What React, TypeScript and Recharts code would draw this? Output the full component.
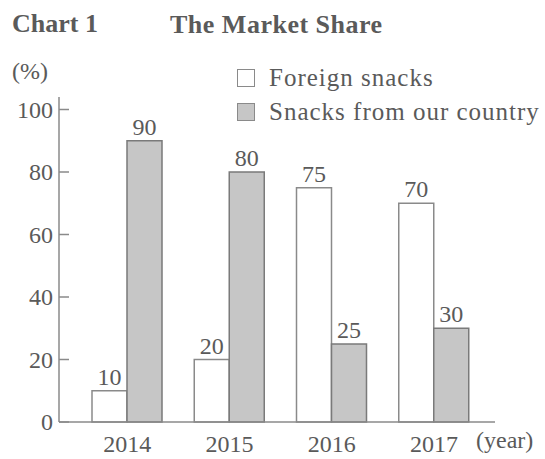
import { BarChart, Bar, XAxis, YAxis, LabelList } from "recharts";

const YEARS = ["2014", "2015", "2016", "2017"];
const FOREIGN = [10, 20, 75, 70];
const LOCAL = [90, 80, 25, 30];
const Y_TICKS = [0, 20, 40, 60, 80, 100];
const SERIES = [
  { name: "Foreign snacks", fill: "#ffffff" },
  { name: "Snacks from our country", fill: "#c6c6c6" },
];

const data = YEARS.map((year, i) => ({ year, foreign: FOREIGN[i], local: LOCAL[i] }));

const FONT = "'Liberation Serif', 'Times New Roman', serif";
const TEXT = "#5a5a5a";
const AXIS = "#8a8a8a";

function YTick(props: any) {
  const { x, y, payload } = props;
  return (
    <g>
      <line x1={x} x2={x + 10} y1={y} y2={y} stroke={AXIS} strokeWidth={1.5} />
      <text x={x - 6} y={y} dy="0.35em" textAnchor="end" fontSize={24} fontFamily={FONT} fill={TEXT}>
        {payload.value}
      </text>
    </g>
  );
}

// legend drawn by hand, the Legend component would push the plot area up
function LegendBox() {
  return (
    <div style={{ position: "absolute", left: 237, top: 61, fontFamily: FONT, color: TEXT }}>
      {SERIES.map((it) => (
        <div key={it.name} style={{ display: "flex", alignItems: "center", height: 34 }}>
          <span
            style={{
              display: "inline-block",
              width: 16,
              height: 16,
              background: it.fill,
              border: "1.5px solid #8a8a8a",
              marginRight: 14,
            }}
          />
          <span style={{ fontSize: 25, lineHeight: "34px", letterSpacing: 1, whiteSpace: "nowrap" }}>{it.name}</span>
        </div>
      ))}
    </div>
  );
}

export default function App() {
  return (
    <div style={{ position: "absolute", left: 0, top: 0, width: 545, height: 459, background: "#fff" }}>
      <BarChart
        width={545}
        height={459}
        data={data}
        margin={{ top: 97, right: 50, bottom: 7, left: 0 }}
        barGap={0}
        barSize={35}
      >
        <XAxis
          dataKey="year"
          height={30}
          padding={{ left: 17, right: 10 }}
          tickLine={false}
          tickSize={0}
          tickMargin={13}
          axisLine={{ stroke: AXIS, strokeWidth: 1.5 }}
          tick={{ fontSize: 24, fontFamily: FONT, fill: TEXT }}
        />
        <YAxis
          width={59}
          domain={[0, 104]}
          ticks={Y_TICKS}
          tickLine={false}
          tickSize={0}
          tickMargin={0}
          axisLine={{ stroke: AXIS, strokeWidth: 1.5 }}
          tick={<YTick />}
        />
        <Bar dataKey="foreign" name={SERIES[0].name} fill={SERIES[0].fill} stroke="#8a8a8a" strokeWidth={1.5} isAnimationActive={false}>
          <LabelList dataKey="foreign" position="top" offset={6} fontSize={24} fontFamily={FONT} fill={TEXT} />
        </Bar>
        <Bar dataKey="local" name={SERIES[1].name} fill={SERIES[1].fill} stroke="#7a7a7a" strokeWidth={1.5} isAnimationActive={false}>
          <LabelList dataKey="local" position="top" offset={6} fontSize={24} fontFamily={FONT} fill={TEXT} />
        </Bar>
      </BarChart>
      <LegendBox />
      <svg width={545} height={459} style={{ position: "absolute", left: 0, top: 0, pointerEvents: "none" }}>
        <text x={12} y={32} fontSize={26} fontWeight="bold" fontFamily={FONT} fill={TEXT}>
          Chart 1
        </text>
        <text x={170} y={33} fontSize={26} fontWeight="bold" letterSpacing={0.5} fontFamily={FONT} fill={TEXT}>
          The Market Share
        </text>
        <text x={12} y={79} fontSize={24} fontFamily={FONT} fill={TEXT}>
          (%)
        </text>
        <text x={476} y={448} fontSize={24} fontFamily={FONT} fill={TEXT}>
          (year)
        </text>
      </svg>
    </div>
  );
}
